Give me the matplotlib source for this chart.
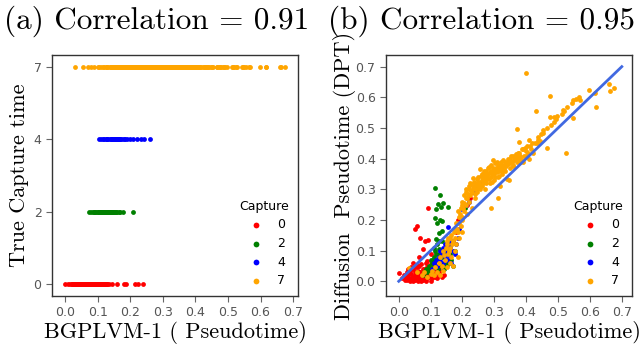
import matplotlib
matplotlib.use("Agg")
import matplotlib.pyplot as plt

# capture times and colours
captures = [0, 2, 4, 7]
capture_colors = ["red", "green", "blue", "orange"]

# BGPLVM-1 pseudotime (x) and diffusion pseudotime DPT (y), read per capture group
cap0_pseudotime = [0.0, 0.01, 0.015, 0.02, 0.02, 0.025, 0.03, 0.03, 0.035, 0.035, 0.04, 0.04,
                   0.045, 0.045, 0.05, 0.05, 0.05, 0.055, 0.055, 0.06, 0.06, 0.06, 0.065, 0.065,
                   0.07, 0.07, 0.07, 0.075, 0.075, 0.08, 0.08, 0.085, 0.085, 0.09, 0.09, 0.095,
                   0.1, 0.1, 0.105, 0.11, 0.115, 0.12, 0.125, 0.13, 0.135, 0.143,
                   0.025, 0.03, 0.04, 0.045, 0.05, 0.055, 0.06, 0.065, 0.07, 0.075, 0.08, 0.085,
                   0.09, 0.095, 0.1, 0.105, 0.11, 0.115, 0.12, 0.125, 0.13, 0.1, 0.09, 0.11,
                   0.091, 0.056, 0.052, 0.067, 0.083, 0.091, 0.077, 0.063, 0.045, 0.1,
                   0.159, 0.181, 0.187, 0.215, 0.225, 0.239]
cap0_dpt = [0.026, 0.01, 0.02, 0.005, 0.015, 0.03, 0.01, 0.02, 0.0, 0.035, 0.01, 0.025,
            0.015, 0.04, 0.005, 0.02, 0.03, 0.01, 0.045, 0.0, 0.02, 0.035, 0.01, 0.05,
            0.015, 0.03, 0.055, 0.005, 0.02, 0.01, 0.04, 0.02, 0.06, 0.01, 0.03, 0.015,
            0.02, 0.04, 0.01, 0.025, 0.015, 0.03, 0.02, 0.035, 0.015, 0.02,
            0.005, 0.04, 0.045, 0.0, 0.05, 0.025, 0.05, 0.03, 0.0, 0.04, 0.025, 0.0,
            0.045, 0.03, 0.0, 0.03, 0.04, 0.03, 0.01, 0.045, 0.02, 0.055, 0.065, 0.06,
            0.24, 0.18, 0.17, 0.14, 0.132, 0.134, 0.105, 0.078, 0.06, 0.09,
            0.12, 0.16, 0.2, 0.25, 0.27, 0.29]

cap2_pseudotime = [0.075, 0.08, 0.085, 0.09, 0.093, 0.095, 0.1, 0.1, 0.105, 0.106, 0.11, 0.11,
                   0.112, 0.115, 0.117, 0.117, 0.12, 0.12, 0.122, 0.125, 0.125, 0.127, 0.127,
                   0.13, 0.133, 0.135, 0.137, 0.138, 0.14, 0.143, 0.145, 0.148, 0.15, 0.155,
                   0.16, 0.165, 0.17, 0.177,
                   0.115, 0.13, 0.122, 0.138, 0.154, 0.117, 0.133, 0.115, 0.128, 0.137, 0.12, 0.208]
cap2_dpt = [0.02, 0.03, 0.04, 0.03, 0.041, 0.05, 0.03, 0.07, 0.06, 0.068, 0.08, 0.05,
            0.11, 0.1, 0.089, 0.137, 0.07, 0.12, 0.041, 0.133, 0.09, 0.105, 0.159,
            0.06, 0.057, 0.13, 0.165, 0.078, 0.08, 0.04, 0.1, 0.052, 0.06, 0.057,
            0.09, 0.07, 0.05, 0.1,
            0.305, 0.283, 0.253, 0.256, 0.242, 0.235, 0.243, 0.205, 0.2, 0.195, 0.19, 0.24]

cap4_pseudotime = [0.105, 0.11, 0.117, 0.12, 0.125, 0.13, 0.13, 0.135, 0.14, 0.14, 0.145, 0.145,
                   0.15, 0.15, 0.155, 0.155, 0.16, 0.16, 0.165, 0.165, 0.17, 0.17, 0.175, 0.18,
                   0.154, 0.185, 0.19, 0.2, 0.21, 0.22, 0.233, 0.243, 0.261]
cap4_dpt = [0.04, 0.06, 0.07, 0.05, 0.08, 0.1, 0.065, 0.09, 0.11, 0.06, 0.12, 0.08,
            0.1, 0.07, 0.13, 0.09, 0.11, 0.08, 0.12, 0.06, 0.1, 0.13, 0.09, 0.12,
            0.178, 0.14, 0.17, 0.235, 0.25, 0.26, 0.29, 0.3, 0.32]

cap7_pseudotime = [0.031, 0.056, 0.072, 0.08, 0.09, 0.1, 0.105, 0.11, 0.115, 0.12, 0.125, 0.13,
                   0.13, 0.135, 0.14, 0.14, 0.145, 0.15, 0.15, 0.155, 0.155, 0.16, 0.16, 0.165,
                   0.165, 0.17, 0.17, 0.175, 0.175, 0.18, 0.18, 0.185, 0.185, 0.19, 0.19, 0.195,
                   0.195, 0.2, 0.2, 0.2,
                   0.205, 0.205, 0.21, 0.21, 0.215, 0.215, 0.22, 0.22, 0.225, 0.225, 0.228, 0.23,
                   0.23, 0.234, 0.235, 0.24, 0.24, 0.245, 0.245, 0.25, 0.25, 0.255, 0.255, 0.26,
                   0.26, 0.265, 0.265, 0.27, 0.27, 0.275, 0.275, 0.28, 0.283, 0.285, 0.289, 0.29,
                   0.29, 0.295, 0.297, 0.3, 0.3, 0.305, 0.305, 0.31, 0.31, 0.312, 0.315, 0.318,
                   0.32, 0.32, 0.325, 0.33, 0.33, 0.335, 0.339, 0.34, 0.344, 0.345, 0.35, 0.35,
                   0.355, 0.36, 0.36, 0.365, 0.37, 0.372, 0.373, 0.375, 0.377, 0.38, 0.385, 0.39,
                   0.39, 0.396, 0.399, 0.399, 0.4, 0.405, 0.408, 0.41, 0.412, 0.414,
                   0.427, 0.431, 0.433, 0.437, 0.438, 0.443, 0.447, 0.452, 0.453, 0.465, 0.466,
                   0.474, 0.476, 0.478, 0.486, 0.488, 0.492, 0.496, 0.511, 0.514, 0.519, 0.526,
                   0.527, 0.544, 0.546, 0.548, 0.556, 0.566, 0.568, 0.597, 0.616, 0.618, 0.66,
                   0.664, 0.675,
                   0.205, 0.21, 0.212, 0.218, 0.222, 0.227, 0.232, 0.236, 0.238, 0.242, 0.247,
                   0.248, 0.252, 0.257, 0.258, 0.262, 0.263, 0.267, 0.268, 0.272, 0.273, 0.278,
                   0.279, 0.282, 0.287, 0.288, 0.292, 0.293, 0.298, 0.302, 0.303, 0.307, 0.308,
                   0.313, 0.316, 0.322, 0.323, 0.327, 0.328, 0.333, 0.337, 0.342, 0.347, 0.352,
                   0.357, 0.362, 0.367, 0.371, 0.378, 0.382, 0.387, 0.393, 0.402, 0.418, 0.422,
                   0.142, 0.148, 0.152, 0.158, 0.162, 0.168, 0.172, 0.178, 0.182, 0.188, 0.192,
                   0.198, 0.202, 0.187, 0.197]
cap7_dpt = [0.043, 0.03, 0.02, 0.03, 0.015, 0.025, 0.035, 0.02, 0.045, 0.03, 0.06, 0.02,
            0.08, 0.05, 0.1, 0.035, 0.07, 0.12, 0.045, 0.09, 0.14, 0.06, 0.11, 0.15,
            0.08, 0.13, 0.05, 0.17, 0.1, 0.19, 0.12, 0.08, 0.16, 0.21, 0.14, 0.18,
            0.24, 0.2, 0.26, 0.16,
            0.23, 0.28, 0.25, 0.29, 0.22, 0.27, 0.3, 0.26, 0.28, 0.32, 0.316, 0.24,
            0.29, 0.338, 0.31, 0.27, 0.3, 0.32, 0.29, 0.31, 0.34, 0.365, 0.3, 0.33,
            0.31, 0.35, 0.32, 0.34, 0.3, 0.36, 0.33, 0.35, 0.374, 0.32, 0.24, 0.36,
            0.34, 0.37, 0.397, 0.35, 0.33, 0.37, 0.36, 0.38, 0.34, 0.273, 0.36, 0.31,
            0.39, 0.37, 0.35, 0.366, 0.38, 0.36, 0.332, 0.39, 0.381, 0.33, 0.4, 0.37,
            0.39, 0.38, 0.41, 0.4, 0.39, 0.498, 0.397, 0.42, 0.453, 0.408, 0.4, 0.388,
            0.43, 0.436, 0.425, 0.679, 0.41, 0.42, 0.46, 0.4, 0.44, 0.43,
            0.45, 0.556, 0.452, 0.46, 0.471, 0.457, 0.48, 0.494, 0.483, 0.435, 0.5,
            0.605, 0.535, 0.51, 0.535, 0.52, 0.529, 0.54, 0.546, 0.56, 0.554, 0.418,
            0.57, 0.58, 0.532, 0.592, 0.594, 0.6, 0.59, 0.624, 0.615, 0.568, 0.643,
            0.621, 0.63,
            0.255, 0.27, 0.3, 0.285, 0.31, 0.295, 0.305, 0.325, 0.285, 0.315, 0.335,
            0.305, 0.325, 0.345, 0.315, 0.35, 0.34, 0.33, 0.36, 0.35, 0.32, 0.345,
            0.37, 0.335, 0.355, 0.38, 0.35, 0.325, 0.36, 0.385, 0.34, 0.355, 0.39,
            0.37, 0.345, 0.38, 0.36, 0.395, 0.37, 0.39, 0.375, 0.4, 0.385, 0.41,
            0.375, 0.395, 0.415, 0.405, 0.42, 0.39, 0.43, 0.41, 0.44, 0.45, 0.42,
            0.085, 0.11, 0.13, 0.1, 0.14, 0.12, 0.16, 0.14, 0.17, 0.19, 0.22,
            0.21, 0.24, 0.23, 0.25]

pseudotime = [cap0_pseudotime, cap2_pseudotime, cap4_pseudotime, cap7_pseudotime]
dpt = [cap0_dpt, cap2_dpt, cap4_dpt, cap7_dpt]

# fitted line shown in panel (b)
fit_x = [0.0, 0.7]
fit_y = [0.0, 0.7]

titles = ["(a) Correlation = 0.91", "(b) Correlation = 0.95"]
ylabels = ["True Capture time", "Diffusion  Pseudotime (DPT)"]
xlabel = "BGPLVM-1 ( Pseudotime)"
xticks = [0.0, 0.1, 0.2, 0.3, 0.4, 0.5, 0.6, 0.7]
right_yticks = [0.0, 0.1, 0.2, 0.3, 0.4, 0.5, 0.6, 0.7]

serif = "cmr10"
marker_size = 12

fig = plt.figure(figsize=(6.4, 3.47), dpi=100)
ax1 = fig.add_axes([52 / 640, 51 / 347, 246 / 640, 241 / 347])
ax2 = fig.add_axes([386 / 640, 51 / 347, 246 / 640, 241 / 347])


def style_axes(ax):
    for side in ["top", "right", "bottom", "left"]:
        ax.spines[side].set_color("#333333")
        ax.spines[side].set_linewidth(1.0)
    ax.tick_params(axis="both", direction="out", length=4, width=0.8,
                   color="#666666", labelcolor="#555555", labelsize=9)
    ax.set_xticks(xticks)
    ax.set_xlabel(xlabel, fontsize=16, family=serif, labelpad=1)


# panel (a): true capture time, shown as evenly spaced categories
for i, (cap, col, xs) in enumerate(zip(captures, capture_colors, pseudotime)):
    ax1.scatter(xs, [i] * len(xs), s=marker_size, color=col, linewidths=0, label=str(cap))
ax1.set_xlim(-0.04, 0.715)
ax1.set_ylim(-0.16, 3.16)
ax1.set_yticks(range(len(captures)))
ax1.set_yticklabels([str(c) for c in captures])
ax1.set_ylabel(ylabels[0], fontsize=16, family=serif, labelpad=3)
style_axes(ax1)

# panel (b): diffusion pseudotime
for cap, col, xs, ys in zip(captures, capture_colors, pseudotime, dpt):
    ax2.scatter(xs, ys, s=marker_size, color=col, linewidths=0, label=str(cap))
ax2.plot(fit_x, fit_y, color="royalblue", linewidth=2)
ax2.set_xlim(-0.04, 0.732)
ax2.set_ylim(-0.048, 0.738)
ax2.set_yticks(right_yticks)
ax2.set_ylabel(ylabels[1], fontsize=16, family=serif, labelpad=0)
style_axes(ax2)

for ax in (ax1, ax2):
    ax.legend(title="Capture", loc="lower right", frameon=False, fontsize=9,
              title_fontsize=9, markerscale=1.2, handletextpad=0.7,
              labelspacing=0.45, borderaxespad=0.3)

fig.text(157 / 640, 1 - 21 / 347, titles[0], fontsize=22.5, family=serif, ha="center", va="center")
fig.text(481 / 640, 1 - 21 / 347, titles[1], fontsize=22.5, family=serif, ha="center", va="center")

fig.savefig("out.png", dpi=100)
